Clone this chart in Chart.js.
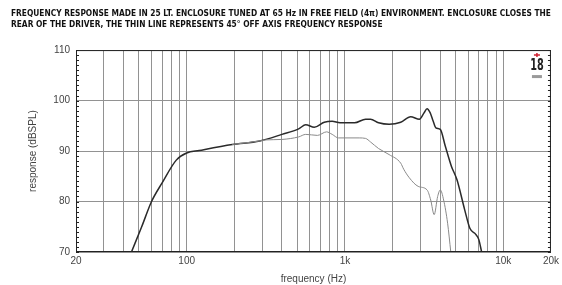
<!DOCTYPE html>
<html>
<head>
<meta charset="utf-8">
<script src="https://cdn.jsdelivr.net/npm/chart.js@4.4.1/dist/chart.umd.min.js"></script>
<style>
  html, body { margin: 0; padding: 0; background: #fff; }
  #wrap { width: 562px; height: 285px; }
</style>
</head>
<body>
<div id="wrap"><canvas id="chart" width="562" height="285"></canvas></div>
<script>
// title lines
const titleLines = [
    "FREQUENCY RESPONSE MADE IN 25 LT. ENCLOSURE TUNED AT 65 Hz IN FREE FIELD (4\u03c0) ENVIRONMENT. ENCLOSURE CLOSES THE",
    "REAR OF THE DRIVER, THE THIN LINE REPRESENTS 45\u00b0 OFF AXIS FREQUENCY RESPONSE"
];

// on-axis response (thick line): frequency in Hz, level in dB
const onAxisFreq = [44.8, 52, 60, 70, 86, 100, 120, 194, 290, 400, 510, 565, 640, 740, 830, 930,
    1150, 1350, 1450, 1630, 1900, 2250, 2600, 2950, 3150, 3300, 3450, 3600, 3750, 4000,
    4300, 4700, 5100, 5700, 6150, 6700, 7000, 7300];
const onAxisDb = [70, 75, 80, 83.7, 88.2, 89.6, 90.1, 91.3, 92.0, 93.3, 94.4, 95.2, 94.7, 95.7, 95.9, 95.6,
    95.6, 96.3, 96.3, 95.6, 95.3, 95.7, 96.8, 96.3, 97.5, 98.4, 97.6, 96.0, 94.6, 94.3,
    91.0, 87.0, 84.3, 78.4, 74.7, 73.5, 72.5, 70];

// 45 deg off-axis response (thin line)
const offAxisFreq = [194, 290, 316, 400, 510, 565, 670, 765, 830, 910, 1230, 1350, 1450, 1630,
    1900, 2250, 2350, 2550, 2900, 3300, 3480, 3660, 3850, 4000, 4200, 4450, 4660];
const offAxisDb = [91.3, 92.0, 92.2, 92.3, 92.8, 93.3, 93.1, 93.8, 93.3, 92.6, 92.6, 92.5, 91.8, 90.5,
    89.3, 87.6, 86.4, 84.7, 83.0, 82.3, 80.3, 77.4, 81.0, 82.3, 80.3, 75.7, 70];

// grid frequencies and labelled ones
const gridFreqs = [20, 30, 40, 50, 60, 70, 80, 90, 100, 200, 300, 400, 500, 600, 700, 800, 900,
    1000, 2000, 3000, 4000, 5000, 6000, 7000, 8000, 9000, 10000, 20000];
const freqLabels = { 20: "20", 100: "100", 1000: "1k", 10000: "10k", 20000: "20k" };
const dbTicks = [70, 80, 90, 100, 110];

const toPoints = (xs, ys) => xs.map((x, i) => ({ x: x, y: ys[i] }));

// minor tick marks on left / right frame and the "18" badge
const framePlugin = {
    id: "frame",
    afterDraw(chart) {
        const { ctx, chartArea: a, scales } = chart;
        const y = scales.y;
        ctx.save();
        ctx.strokeStyle = "#222";
        ctx.lineWidth = 1;
        ctx.strokeRect(a.left + 0.5, a.top + 0.5, a.right - a.left - 1, a.bottom - a.top - 1);
        ctx.beginPath();
        for (let v = 70; v <= 110; v++) {
            const py = Math.round(y.getPixelForValue(v)) + 0.5;
            ctx.moveTo(a.left, py); ctx.lineTo(a.left + 3, py);
            ctx.moveTo(a.right - 3, py); ctx.lineTo(a.right, py);
        }
        ctx.stroke();

        // badge
        const bx = a.right - 14, by = a.top + 4;
        ctx.strokeStyle = "#d02030";
        ctx.lineWidth = 1.5;
        ctx.beginPath();
        ctx.moveTo(bx - 3, by + 1); ctx.lineTo(bx + 3, by + 1);
        ctx.moveTo(bx, by - 1); ctx.lineTo(bx, by + 3);
        ctx.stroke();
        ctx.fillStyle = "#222";
        ctx.translate(bx, by + 5);
        ctx.scale(0.72, 1);
        ctx.font = "bold 15px 'DejaVu Sans Condensed', sans-serif";
        ctx.textAlign = "center";
        ctx.textBaseline = "top";
        ctx.fillText("18", 0, 0);
        ctx.setTransform(1, 0, 0, 1, 0, 0);
        ctx.fillStyle = "#9a9a9a";
        ctx.fillRect(bx - 5, by + 21, 10, 3);
        ctx.restore();
    }
};

new Chart(document.getElementById("chart"), {
    type: "line",
    data: {
        datasets: [
            {
                label: "45\u00b0 off axis",
                data: toPoints(offAxisFreq, offAxisDb),
                borderColor: "#8a8a8a",
                borderWidth: 1,
                pointRadius: 0,
                cubicInterpolationMode: "monotone"
            },
            {
                label: "on axis",
                data: toPoints(onAxisFreq, onAxisDb),
                borderColor: "#2a2a2a",
                borderWidth: 1.5,
                pointRadius: 0,
                cubicInterpolationMode: "monotone"
            }
        ]
    },
    options: {
        responsive: false,
        animation: false,
        layout: { padding: { left: 11, right: 10, top: 0, bottom: 0 } },
        plugins: {
            legend: { display: false },
            tooltip: { enabled: false },
            title: {
                display: true,
                text: titleLines,
                align: "start",
                color: "#111",
                font: { family: "'Liberation Sans Narrow', 'DejaVu Sans Condensed', sans-serif", size: 8.3, weight: "bold", lineHeight: 1.27 },
                padding: { top: 9, bottom: 20 }
            }
        },
        scales: {
            x: {
                type: "logarithmic",
                min: 20,
                max: 20000,
                afterBuildTicks: s => { s.ticks = gridFreqs.map(v => ({ value: v })); },
                afterFit: s => { s.height = 33; },
                ticks: {
                    autoSkip: false,
                    maxRotation: 0,
                    padding: 3,
                    color: "#444",
                    font: { family: "'Liberation Sans', Arial, sans-serif", size: 10 },
                    callback: v => freqLabels[v] || ""
                },
                grid: { color: "#929292", lineWidth: 1, drawTicks: false },
                border: { display: false },
                title: {
                    display: true,
                    text: "frequency (Hz)",
                    color: "#444",
                    font: { family: "'Liberation Sans', Arial, sans-serif", size: 10 },
                    padding: { top: 0, bottom: 0 }
                }
            },
            y: {
                min: 70,
                max: 110,
                afterBuildTicks: s => { s.ticks = dbTicks.map(v => ({ value: v })); },
                afterFit: s => { s.width = 65; },
                ticks: {
                    padding: 6,
                    color: "#444",
                    font: { family: "'Liberation Sans', Arial, sans-serif", size: 10 }
                },
                grid: { color: "#929292", lineWidth: 1, drawTicks: false },
                border: { display: false },
                title: {
                    display: true,
                    text: "response (dBSPL)",
                    color: "#444",
                    font: { family: "'Liberation Sans', Arial, sans-serif", size: 10 },
                    padding: { top: 16, bottom: 0 }
                }
            }
        }
    },
    plugins: [framePlugin]
});
</script>
</body>
</html>
